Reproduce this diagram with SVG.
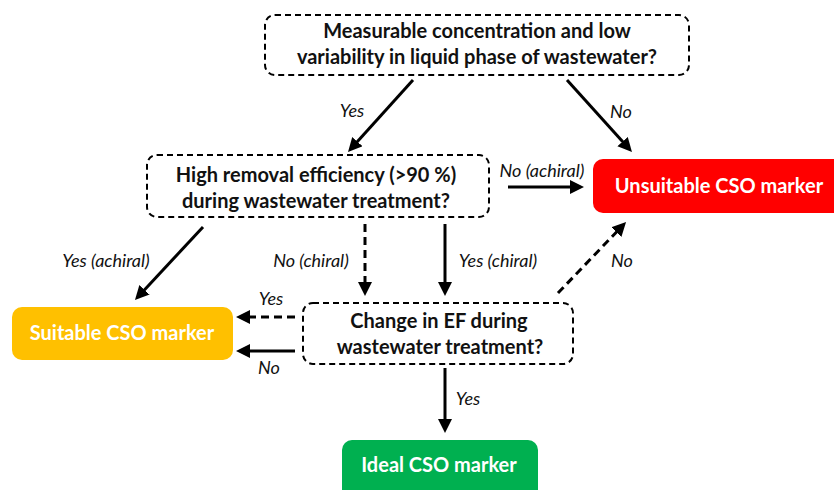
<svg xmlns="http://www.w3.org/2000/svg" width="834" height="490" viewBox="0 0 834 490">
  <defs>
    <marker id="head" markerUnits="userSpaceOnUse" markerWidth="16" markerHeight="16" refX="6" refY="7" orient="auto">
      <path d="M0,0 L14,7 L0,14 z" fill="#000"/>
    </marker>
    <style>
      .q { fill: #fff; stroke: #000; stroke-width: 2; stroke-dasharray: 6 4; }
      .qt { font-family: Lato, "Liberation Sans", sans-serif; font-weight: bold; font-size: 20px; fill: #111; text-anchor: middle; }
      .rt { font-family: Lato, "Liberation Sans", sans-serif; font-weight: bold; font-size: 20px; fill: #fff; text-anchor: middle; }
      .lbl { font-family: Lato, "Liberation Sans", sans-serif; font-style: italic; font-size: 18px; fill: #111; text-anchor: middle; }
      .arr { stroke: #000; stroke-width: 3; fill: none; marker-end: url(#head); }
      .dash { stroke-dasharray: 8 5; }
    </style>
  </defs>
  <rect width="834" height="490" fill="#fff"/>

  <g id="q-concentration">
    <rect class="q" x="265" y="15" width="424" height="60" rx="10"/>
    <text class="qt" x="477" y="38">Measurable concentration and low</text>
    <text class="qt" x="477" y="64">variability in liquid phase of wastewater?</text>
  </g>

  <g id="q-removal">
    <rect class="q" x="147" y="155" width="342" height="62" rx="10"/>
    <text class="qt" x="316" y="182">High removal efficiency (&gt;90 %)</text>
    <text class="qt" x="316" y="208">during wastewater treatment?</text>
  </g>

  <g id="q-ef">
    <rect class="q" x="303" y="303" width="270" height="61" rx="10"/>
    <text class="qt" x="439" y="328">Change in EF during</text>
    <text class="qt" x="440" y="354">wastewater treatment?</text>
  </g>

  <g id="unsuitable">
    <rect x="593" y="159" width="252" height="54" rx="10" fill="#FF0000"/>
    <text class="rt" x="719" y="193">Unsuitable CSO marker</text>
  </g>

  <g id="suitable">
    <rect x="12" y="307" width="221" height="53" rx="10" fill="#FFC000"/>
    <text class="rt" x="122" y="340">Suitable CSO marker</text>
  </g>

  <g id="ideal">
    <rect x="342" y="440" width="196" height="60" rx="10" fill="#00B050"/>
    <text class="rt" x="439" y="472">Ideal CSO marker</text>
  </g>

  <g id="connectors">
    <line class="arr" x1="413" y1="80" x2="353.4" y2="146.1"/>
    <line class="arr" x1="567" y1="80" x2="626.6" y2="146.1"/>
    <line class="arr" x1="508" y1="187" x2="576" y2="187"/>
    <line class="arr" x1="203" y1="227" x2="140.4" y2="294.2"/>
    <line class="arr dash" x1="365" y1="224" x2="365" y2="288"/>
    <line class="arr" x1="445" y1="224" x2="445" y2="288"/>
    <line class="arr dash" x1="558" y1="293" x2="620.5" y2="227.8"/>
    <line class="arr dash" x1="295" y1="317" x2="244" y2="317"/>
    <line class="arr" x1="295" y1="351" x2="244" y2="351"/>
    <line class="arr" x1="445" y1="368" x2="445" y2="425"/>

    <text class="lbl" x="352" y="117">Yes</text>
    <text class="lbl" x="621" y="118">No</text>
    <text class="lbl" x="542" y="177">No (achiral)</text>
    <text class="lbl" x="106" y="267">Yes (achiral)</text>
    <text class="lbl" x="311" y="267">No (chiral)</text>
    <text class="lbl" x="498" y="267">Yes (chiral)</text>
    <text class="lbl" x="622" y="267">No</text>
    <text class="lbl" x="271" y="305">Yes</text>
    <text class="lbl" x="269" y="374">No</text>
    <text class="lbl" x="468" y="405">Yes</text>
  </g>
</svg>
